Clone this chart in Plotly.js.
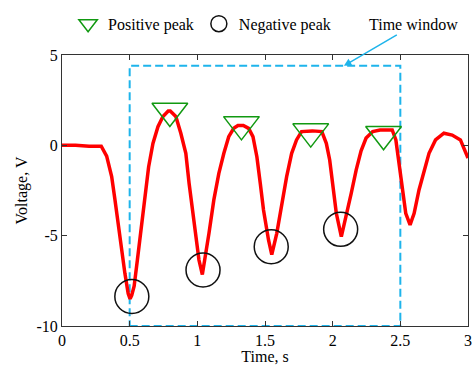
<!DOCTYPE html>
<html>
<head>
<meta charset="utf-8">
<script src="https://cdn.plot.ly/plotly-3.0.1.min.js"></script>
<style>html,body{margin:0;padding:0;background:#fff;}#chart{width:473px;height:365px;}</style>
</head>
<body>
<div id="chart"></div>
<script>
// Signal (time in s, voltage in V)
const timeS = [0, 0.1, 0.2, 0.29, 0.33, 0.367, 0.391, 0.416, 0.44, 0.465, 0.489, 0.503, 0.515, 0.533, 0.557, 0.587, 0.611, 0.64, 0.672, 0.709, 0.746, 0.785, 0.80, 0.841, 0.878, 0.915, 0.939, 0.963, 0.988, 1.012, 1.037, 1.061, 1.086, 1.122, 1.159, 1.196, 1.232, 1.269, 1.30, 1.34, 1.379, 1.411, 1.44, 1.465, 1.489, 1.526, 1.55, 1.587, 1.623, 1.66, 1.697, 1.733, 1.77, 1.85, 1.92, 1.953, 1.978, 2.002, 2.027, 2.064, 2.1, 2.137, 2.174, 2.21, 2.247, 2.296, 2.35, 2.44, 2.467, 2.492, 2.516, 2.54, 2.572, 2.602, 2.638, 2.675, 2.712, 2.76, 2.822, 2.883, 2.944, 3.0];
const voltage = [0.0, 0.0, -0.05, -0.05, -0.6, -1.73, -3.0, -4.5, -5.8, -7.1, -8.2, -8.5, -8.3, -7.8, -6.35, -4.5, -2.85, -1.2, 0.1, 1.03, 1.6, 1.9, 1.9, 1.6, 0.67, -0.44, -2.1, -3.58, -5.06, -6.35, -7.15, -6.16, -4.87, -3.02, -1.55, -0.44, 0.48, 0.94, 1.1, 1.1, 0.94, 0.48, -0.63, -2.1, -3.58, -5.24, -6.05, -4.87, -3.21, -1.73, -0.44, 0.3, 0.76, 0.8, 0.76, 0.11, -0.81, -2.29, -3.76, -5.05, -3.95, -2.66, -1.36, -0.3, 0.4, 0.76, 0.85, 0.85, 0.3, -1.18, -2.66, -3.76, -4.4, -3.76, -2.47, -1.36, -0.44, 0.3, 0.67, 0.57, 0.3, -0.7];

// Detected peaks
const posPeakT = [0.797, 1.326, 1.838, 2.376];
const posPeakV = [1.90, 1.16, 0.76, 0.61];
const negPeakT = [0.516, 1.042, 1.546, 2.059];
const negPeakV = [-8.37, -6.9, -5.61, -4.65];

// Time window
const windowStart = 0.5;
const windowEnd = 2.5;
const windowBottom = -10;
const windowTop = 4.4;
const windowArrowT = 2.083;

const xTicks = [0, 0.5, 1, 1.5, 2, 2.5, 3];
const xTickText = ['0', '0.5', '1', '1.5', '2', '2.5', '3'];
const yTicks = [-10, -5, 0, 5];
const yTickText = ['-10', '-5', '0', '5'];

const FONT = 'Liberation Serif, Times New Roman, serif';
const BLUE = 'rgb(30,180,235)';

const traces = [
  {x: timeS, y: voltage, type: 'scatter', mode: 'lines',
   line: {color: '#ff0000', width: 3.5}, showlegend: false, hoverinfo: 'skip'},
  {x: posPeakT, y: posPeakV, type: 'scatter', mode: 'markers', name: 'Positive peak',
   marker: {symbol: 'triangle-down-open', size: 31, color: '#119911', line: {width: 1.5, color: '#119911'}}},
  {x: negPeakT, y: negPeakV, type: 'scatter', mode: 'markers', name: 'Negative peak',
   marker: {symbol: 'circle-open', size: 34, color: '#111111', line: {width: 1.5, color: '#111111'}}}
];

const axisCommon = {
  showline: true, linecolor: '#333', linewidth: 1, mirror: 'ticks',
  ticks: 'inside', ticklen: 5, tickcolor: '#333', showgrid: false, zeroline: false,
  ticklabeloverflow: 'allow',
  tickfont: {family: FONT, size: 16, color: '#000'}
};

const layout = {
  width: 473, height: 365,
  margin: {l: 62, r: 5, t: 55, b: 39},
  paper_bgcolor: '#fff', plot_bgcolor: '#fff',
  font: {family: FONT, size: 16, color: '#000'},
  xaxis: Object.assign({}, axisCommon, {range: [0, 3], tickvals: xTicks, ticktext: xTickText,
    title: {text: 'Time, s', font: {family: FONT, size: 16}, standoff: 0}}),
  yaxis: Object.assign({}, axisCommon, {range: [-10, 5], tickvals: yTicks, ticktext: yTickText,
    title: {text: 'Voltage, V', font: {family: FONT, size: 16}, standoff: 4}}),
  showlegend: true,
  legend: {orientation: 'h', x: 0.015, xanchor: 'left', y: 1.115, yanchor: 'middle',
    font: {family: FONT, size: 16}, bgcolor: 'rgba(0,0,0,0)', itemsizing: 'trace'},
  shapes: [{type: 'rect', xref: 'x', yref: 'y', x0: windowStart, x1: windowEnd, y0: windowBottom, y1: windowTop,
    line: {color: BLUE, width: 2, dash: '8px,4px'}, fillcolor: 'rgba(0,0,0,0)', layer: 'below'}],
  annotations: [{x: windowArrowT, y: windowTop, xref: 'x', yref: 'y', text: 'Time window',
    showarrow: true, arrowhead: 2, arrowsize: 1, arrowwidth: 1.5, arrowcolor: BLUE,
    ax: 70, ay: -41, font: {family: FONT, size: 16, color: '#000'}}]
};

Plotly.newPlot('chart', traces, layout, {displayModeBar: false, staticPlot: true});
</script>
</body>
</html>
